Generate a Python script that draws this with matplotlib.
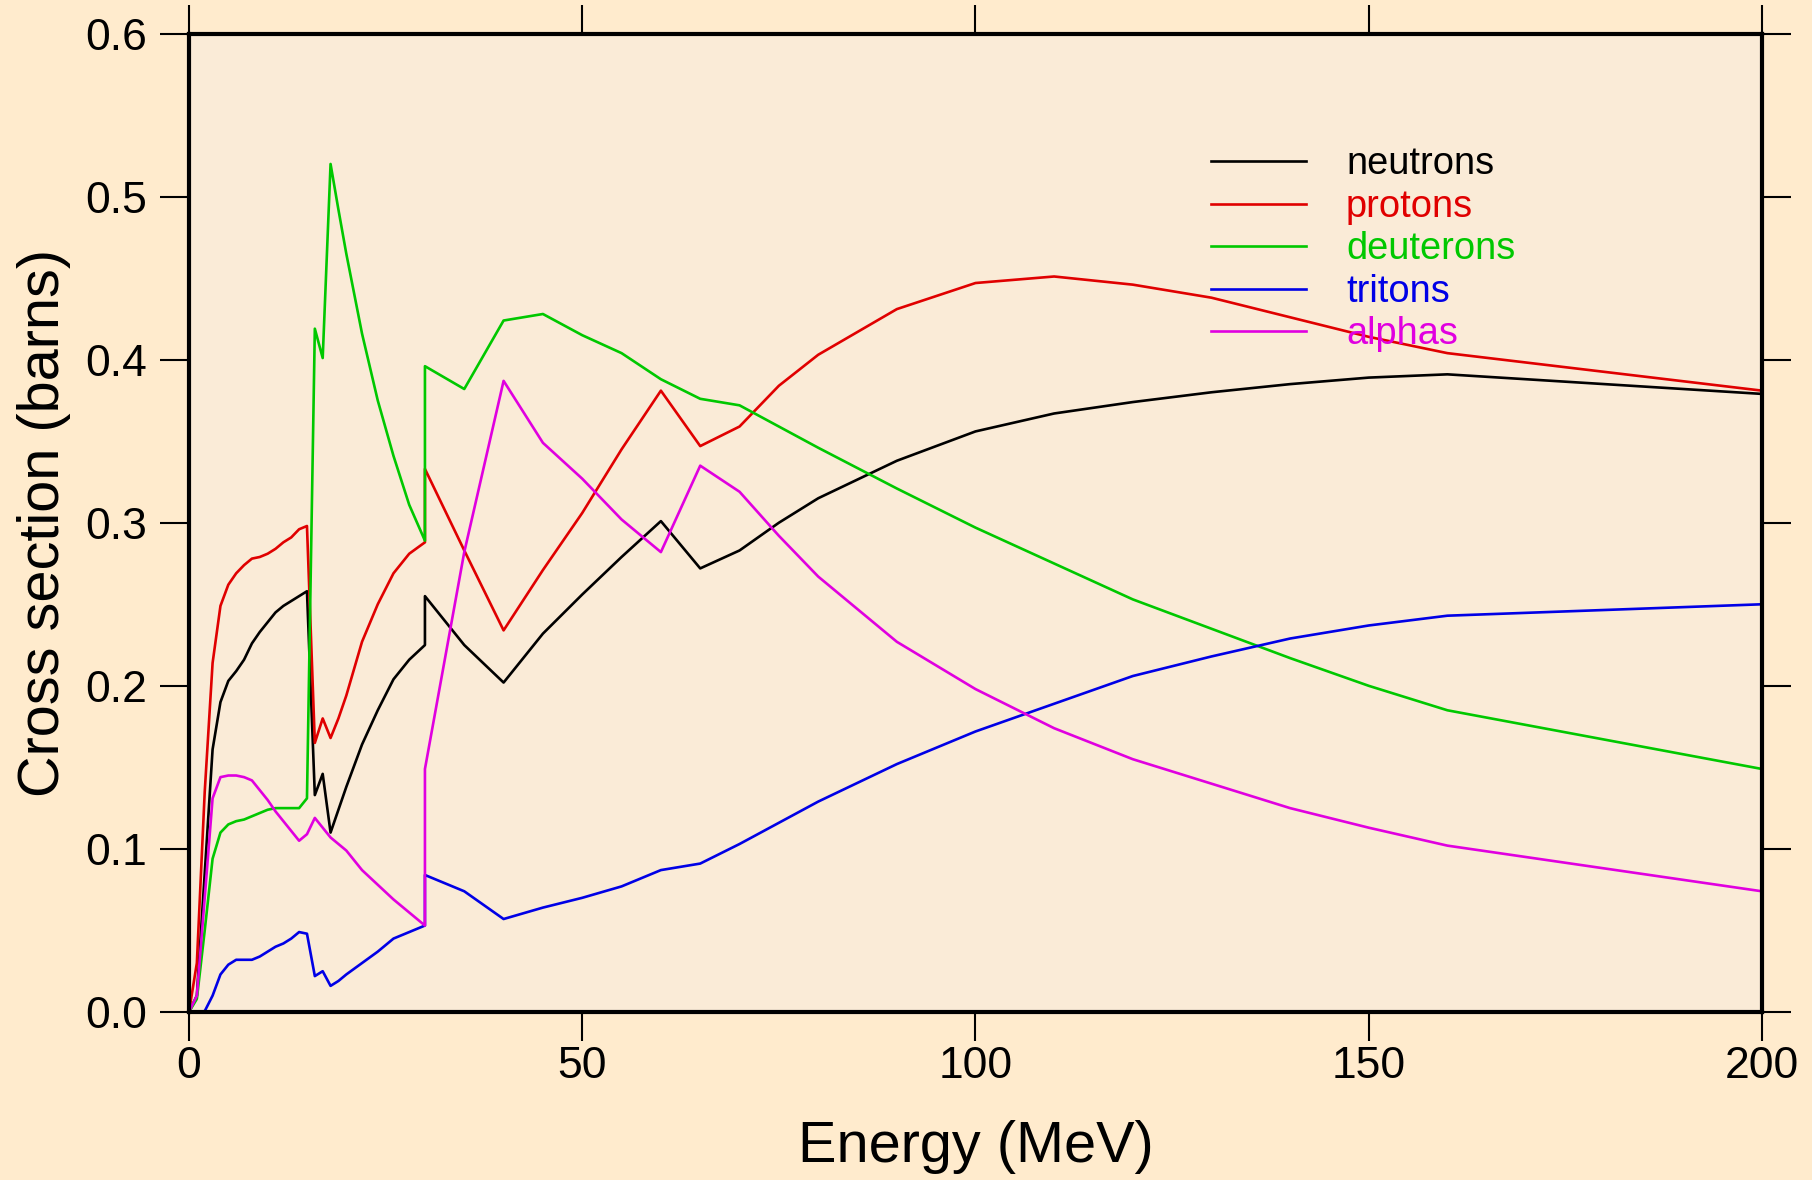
import matplotlib
matplotlib.use('Agg')
import matplotlib.pyplot as plt
from matplotlib.ticker import FormatStrFormatter

# energy grid (MeV); 30 appears twice (step in the evaluation)
energy = [0, 1, 2, 3, 4, 5, 6, 7, 8, 9, 10, 11, 12, 13, 14, 15, 16, 17, 18, 19, 20,
          22, 24, 26, 28, 30, 30, 35, 40, 45, 50, 55, 60, 65, 70, 75,
          80, 90, 100, 110, 120, 130, 140, 150, 160, 200]

neutrons = [0.0, 0.010, 0.085, 0.161, 0.190, 0.203, 0.209, 0.216, 0.226, 0.233, 0.239,
            0.245, 0.249, 0.252, 0.255, 0.258, 0.133, 0.146, 0.110, 0.124, 0.138,
            0.164, 0.185, 0.204, 0.216, 0.225, 0.255, 0.225, 0.202, 0.232, 0.256,
            0.279, 0.301, 0.272, 0.283, 0.300, 0.315, 0.338, 0.356, 0.367, 0.374,
            0.380, 0.385, 0.389, 0.391, 0.379]

protons = [0.0, 0.030, 0.135, 0.214, 0.249, 0.262, 0.269, 0.274, 0.278, 0.279, 0.281,
           0.284, 0.288, 0.291, 0.296, 0.298, 0.165, 0.180, 0.168, 0.180, 0.194,
           0.227, 0.250, 0.269, 0.281, 0.288, 0.333, 0.283, 0.234, 0.271, 0.306,
           0.345, 0.381, 0.347, 0.359, 0.384, 0.403, 0.431, 0.447, 0.451, 0.446,
           0.438, 0.426, 0.414, 0.404, 0.381]

deuterons = [0.0, 0.008, 0.050, 0.094, 0.110, 0.115, 0.117, 0.118, 0.120, 0.122, 0.124,
             0.125, 0.125, 0.125, 0.125, 0.131, 0.419, 0.401, 0.520, 0.492, 0.465,
             0.416, 0.375, 0.341, 0.311, 0.289, 0.396, 0.382, 0.424, 0.428, 0.415,
             0.404, 0.388, 0.376, 0.372, 0.359, 0.346, 0.321, 0.297, 0.275, 0.253,
             0.235, 0.217, 0.200, 0.185, 0.149]

tritons = [0.0, 0.0, 0.0005, 0.010, 0.023, 0.029, 0.032, 0.032, 0.032, 0.034, 0.037,
           0.040, 0.042, 0.045, 0.049, 0.048, 0.022, 0.025, 0.016, 0.019, 0.023,
           0.030, 0.037, 0.045, 0.049, 0.053, 0.084, 0.074, 0.057, 0.064, 0.070,
           0.077, 0.087, 0.091, 0.103, 0.116, 0.129, 0.152, 0.172, 0.189, 0.206,
           0.218, 0.229, 0.237, 0.243, 0.250]

alphas = [0.0, 0.010, 0.070, 0.131, 0.144, 0.145, 0.145, 0.144, 0.142, 0.136, 0.130,
          0.123, 0.117, 0.111, 0.105, 0.109, 0.119, 0.113, 0.107, 0.103, 0.099,
          0.087, 0.078, 0.069, 0.061, 0.053, 0.149, 0.282, 0.387, 0.349, 0.327,
          0.302, 0.282, 0.335, 0.319, 0.292, 0.267, 0.227, 0.198, 0.174, 0.155,
          0.140, 0.125, 0.113, 0.102, 0.074]

series_names = ['neutrons', 'protons', 'deuterons', 'tritons', 'alphas']
series_colors = ['black', '#e00000', '#00c800', '#0000e6', '#e000e0']

x_ticks = [0, 50, 100, 150, 200]
y_ticks = [0.0, 0.1, 0.2, 0.3, 0.4, 0.5, 0.6]

plt.rcParams['font.family'] = ['Liberation Sans', 'DejaVu Sans']

fig = plt.figure(figsize=(18.12, 11.8), dpi=100, facecolor='#ffebcd')
ax = fig.add_axes([0.1043, 0.1424, 0.8681, 0.8292])
ax.set_facecolor('#faebd7')

for name, vals, col in zip(series_names,
                           [neutrons, protons, deuterons, tritons, alphas],
                           series_colors):
    ax.plot(energy, vals, color=col, lw=1.9, label=name)

ax.set_xlim(0, 200)
ax.set_ylim(0, 0.6)
ax.set_xticks(x_ticks)
ax.set_yticks(y_ticks)
ax.yaxis.set_major_formatter(FormatStrFormatter('%.1f'))
ax.tick_params(direction='out', length=21, width=1.5, top=True, right=True,
               labelsize=32)
ax.tick_params(axis='x', pad=3.4)
ax.tick_params(axis='y', pad=9.0)
for s in ax.spines.values():
    s.set_linewidth(3)

ax.set_xlabel('Energy (MeV)', fontsize=41.5)
ax.set_ylabel('Cross section (barns)', fontsize=41.5)
ax.xaxis.set_label_coords(0.5, -0.138)
ax.xaxis.label.set_va('center')
ax.yaxis.set_label_coords(-0.0922, 0.5)
ax.yaxis.label.set_va('center')

# legend with no frame, labels coloured like the lines
ax.legend(loc='upper left', bbox_to_anchor=(0.6497, 0.8846), frameon=False,
          fontsize=27.4, handlelength=2.51, handletextpad=1.04,
          labelspacing=0.17, borderpad=0, borderaxespad=0,
          labelcolor='linecolor')

fig.savefig('out.png', dpi=100, facecolor=fig.get_facecolor())
